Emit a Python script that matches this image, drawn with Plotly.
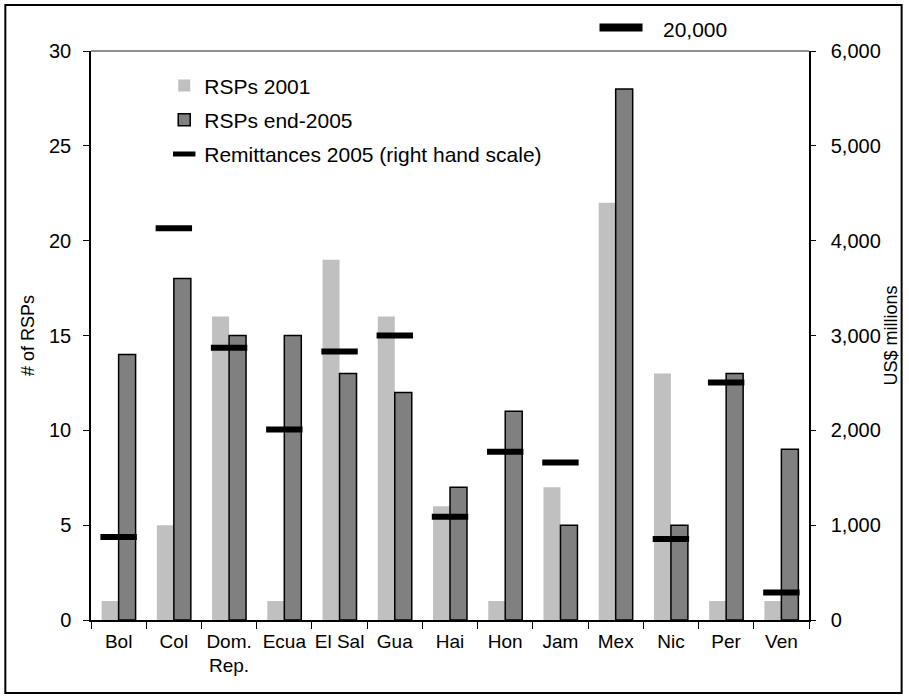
import plotly.graph_objects as go

# Countries and series
countries = ["Bol", "Col", "Dom.<br>Rep.", "Ecua", "El Sal", "Gua", "Hai",
             "Hon", "Jam", "Mex", "Nic", "Per", "Ven"]
rsps_2001 = [1, 5, 16, 1, 19, 16, 6, 1, 7, 22, 13, 1, 1]
rsps_2005 = [14, 18, 15, 15, 13, 12, 7, 11, 5, 28, 5, 13, 9]
remit_2005 = [875, 4130, 2870, 2010, 2830, 3000, 1090, 1775, 1660, 20000, 855, 2505, 290]

left_ticks = [0, 5, 10, 15, 20, 25, 30]
right_ticks = [0, 1000, 2000, 3000, 4000, 5000, 6000]
right_max = right_ticks[-1]
off_scale_pos = 1.042   # height (fraction of y2 domain) where off-scale values are flagged

FONT = "Arial, 'Liberation Sans', sans-serif"

in_scale = [(c, v) for c, v in zip(countries, remit_2005) if v <= right_max]
off_scale = [(c, v) for c, v in zip(countries, remit_2005) if v > right_max]

fig = go.Figure()
fig.add_trace(go.Bar(
    x=countries, y=rsps_2001, name="RSPs 2001",
    marker=dict(color="#C0C0C0", line=dict(width=0)),
    legendgroup="a",
))
fig.add_trace(go.Bar(
    x=countries, y=rsps_2005, name="RSPs end-2005",
    marker=dict(color="#808080", line=dict(color="black", width=1.5)),
    legendgroup="b",
))
fig.add_trace(go.Scatter(
    x=[c for c, _ in in_scale], y=[v for _, v in in_scale],
    yaxis="y2", mode="markers", name="Remittances 2005 (right hand scale)",
    marker=dict(symbol="line-ew", size=26, line=dict(width=6, color="black")),
    legendgroup="c",
))
# remittances beyond the right-hand scale: a bar mark above the plot area plus its value
for c, v in off_scale:
    fig.add_annotation(x=c, y=off_scale_pos, yref="y2 domain", text=" ",
                       showarrow=False, width=42, height=7, borderpad=0,
                       xanchor="center", yanchor="middle", xshift=5,
                       bgcolor="black", font=dict(size=4))
    fig.add_annotation(x=c, y=off_scale_pos, yref="y2 domain", text=f"{v:,}",
                       showarrow=False, xanchor="left", yanchor="middle",
                       xshift=45, yshift=-2,
                       font=dict(family=FONT, size=21, color="black"))

fig.update_layout(
    width=909, height=698,
    margin=dict(l=91, r=97, t=51, b=78),
    paper_bgcolor="white", plot_bgcolor="white",
    barmode="group", bargap=0.385, bargroupgap=0,
    font=dict(family=FONT, size=20, color="black"),
    showlegend=True,
    legend=dict(x=0.102, y=0.975, xanchor="left", yanchor="top",
                bgcolor="rgba(0,0,0,0)", font=dict(size=21),
                traceorder="grouped", tracegroupgap=4,
                itemwidth=30),
    xaxis=dict(
        range=[-0.5, len(countries) - 0.5],
        showline=True, linecolor="black", linewidth=1.5,
        ticks="outside", ticklen=7, tickcolor="black", tickwidth=1,
        tickson="boundaries", tickangle=0, tickfont=dict(size=19),
        ticklabelstandoff=3,
        showgrid=False, zeroline=False,
    ),
    yaxis=dict(
        range=[0, 30], tickvals=left_ticks,
        showline=True, linecolor="black", linewidth=1.5,
        ticks="outside", ticklen=6, tickcolor="black",
        ticklabelstandoff=8,
        showgrid=False, zeroline=False,
        title=dict(text="# of RSPs", font=dict(size=18), standoff=10),
        tickfont=dict(size=20),
    ),
    yaxis2=dict(
        range=[0, right_max], tickvals=right_ticks,
        tickformat=",d", overlaying="y", side="right",
        showline=True, linecolor="black", linewidth=1.5,
        ticks="outside", ticklen=5, tickcolor="black",
        ticklabelstandoff=11,
        showgrid=False, zeroline=False,
        title=dict(text="US$ millions", font=dict(size=18), standoff=4),
        tickfont=dict(size=20),
    ),
    shapes=[
        # grey top edge of the plot area
        dict(type="line", xref="paper", yref="paper", x0=0, x1=1, y0=1, y1=1,
             line=dict(color="#909090", width=2)),
        # outer frame around the whole chart
        dict(type="rect", xref="paper", yref="paper",
             x0=-0.1193, x1=1.1290, y0=-0.1283, y1=1.0808,
             line=dict(color="black", width=2)),
    ],
)

fig.write_html("out.html")
